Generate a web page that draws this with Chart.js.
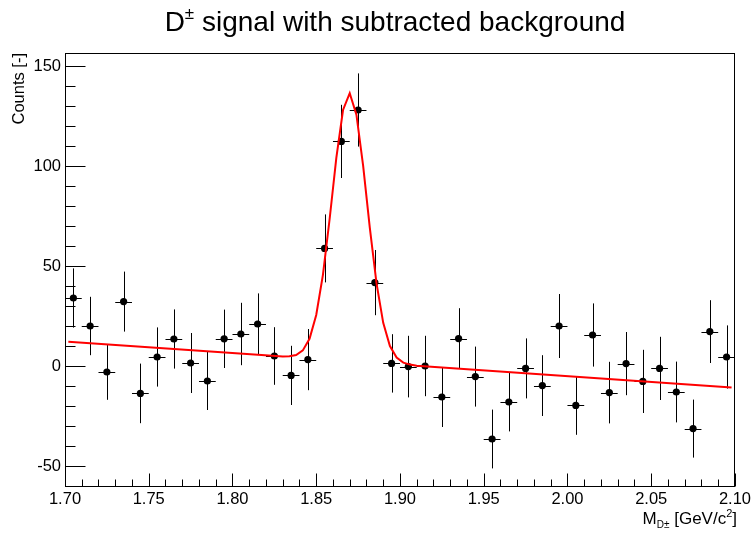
<!DOCTYPE html>
<html><head><meta charset="utf-8">
<script src="https://cdn.jsdelivr.net/npm/chart.js@4/dist/chart.umd.min.js"></script>
<style>html,body{margin:0;padding:0;background:#fff}canvas{display:block}</style>
</head><body>
<canvas id="c" width="754" height="536"></canvas>
<script>
// ---- data ----
const binCenters = [1.705,1.715,1.725,1.735,1.745,1.755,1.765,1.775,1.785,1.795,
                    1.805,1.815,1.825,1.835,1.845,1.855,1.865,1.875,1.885,1.895,
                    1.905,1.915,1.925,1.935,1.945,1.955,1.965,1.975,1.985,1.995,
                    2.005,2.015,2.025,2.035,2.045,2.055,2.065,2.075,2.085,2.095];
const counts = [34,20,-3,32.2,-13.7,4.5,13.5,1.5,-7.5,13.6,
                16,21,5,-4.7,3.2,58.8,112.3,128,41.7,1.3,
                -0.3,0,-15.5,13.7,-5.3,-36.5,-18,-1.2,-9.8,20,
                -19.7,15.5,-13.3,1.2,-7.7,-1.2,-13,-31.3,17.2,4.5];
const errors = [14.8,14.6,13.9,15,14.9,14.8,14.8,15,14.5,14.6,
                15.6,15.3,14.4,14.8,15.3,17,18.3,18.3,16.3,14.6,
                15.4,15.1,15,15.2,15,14.7,14.7,15,15.2,16,
                14.7,15.8,15.4,15.8,15.8,15.8,15.2,14.5,15.7,15.8];
const binHalfWidth = 0.005;
// fitted curve (linear background + gaussian), vertices
const fitX = [1.702,1.826,1.830,1.834,1.838,1.842,1.846,1.850,1.854,1.858,1.862,1.866,1.870,
              1.874,1.878,1.882,1.886,1.890,1.894,1.898,1.902,1.906,1.910,2.098];
const fitY = [12.1,4.96,4.77,4.85,5.52,7.79,13.6,25.5,45.6,73.5,104.1,128.0,136.4,
              125.7,100.2,69.1,41.3,21.6,10.0,4.2,1.7,0.7,0.15,-10.7];
const xTicks = [1.70,1.75,1.80,1.85,1.90,1.95,2.00,2.05,2.10];
const yTicks = [-50,0,50,100,150];

const FONT = '"Liberation Sans", Arial, Helvetica, sans-serif';

const errorBars = {
  id:'errorBars',
  beforeDatasetsDraw(chart){
    const {ctx, scales:{x,y}} = chart;
    ctx.save();
    ctx.strokeStyle = '#000'; ctx.lineWidth = 1;
    ctx.beginPath();
    binCenters.forEach((c,i)=>{
      const px = Math.round(x.getPixelForValue(c))+0.5;
      const py = Math.round(y.getPixelForValue(counts[i]))+0.5;
      ctx.moveTo(px, y.getPixelForValue(counts[i]+errors[i]));
      ctx.lineTo(px, y.getPixelForValue(counts[i]-errors[i]));
      ctx.moveTo(x.getPixelForValue(c-binHalfWidth), py);
      ctx.lineTo(x.getPixelForValue(c+binHalfWidth), py);
    });
    ctx.stroke();
    ctx.restore();
  }
};

const rootFrame = {
  id:'rootFrame',
  afterDraw(chart){
    const {ctx, chartArea:a, scales:{x,y}} = chart;
    ctx.save();
    ctx.strokeStyle = '#000'; ctx.lineWidth = 1;
    const L = Math.round(a.left)+0.5, R = Math.round(a.right)-0.5;
    const T = Math.round(a.top)+0.5, B = Math.round(a.bottom)-0.5;
    ctx.strokeRect(L, T, R-L, B-T);
    ctx.beginPath();
    for (let v=-60; v<=150; v+=10){
      const py = Math.round(y.getPixelForValue(v))+0.5;
      const len = (v%50===0)?20:10;
      ctx.moveTo(L, py); ctx.lineTo(L+len, py);
    }
    for (let k=0; k<=40; k++){
      const px = Math.round(x.getPixelForValue(1.70+k*0.01))+0.5;
      const len = (k%5===0)?13:7;
      ctx.moveTo(px, B); ctx.lineTo(px, B-len);
    }
    ctx.stroke();

    ctx.fillStyle = '#000';
    // main title
    const parts = [
      {t:'D', s:28, dy:0},
      {t:'\u00B1', s:17, dy:-12},
      {t:' signal with subtracted background', s:28, dy:0}
    ];
    drawParts(ctx, parts, 395, 31, 'center');
    // x axis title
    const xparts = [
      {t:'M', s:17, dy:0},
      {t:'D\u00B1', s:10, dy:4},
      {t:' [GeV/c', s:17, dy:0},
      {t:'2', s:11, dy:-7},
      {t:']', s:17, dy:0}
    ];
    drawParts(ctx, xparts, 737, 524, 'right');
    // y axis title
    ctx.save();
    ctx.translate(24, 53);
    ctx.rotate(-Math.PI/2);
    ctx.font = '16.5px ' + FONT;
    ctx.textAlign = 'right'; ctx.textBaseline = 'alphabetic';
    ctx.fillText('Counts [-]', 0, 0);
    ctx.restore();
    ctx.restore();
  }
};

function drawParts(ctx, parts, x, y, align){
  ctx.textAlign = 'left'; ctx.textBaseline = 'alphabetic';
  let w = 0;
  parts.forEach(p=>{ ctx.font = p.s+'px '+FONT; p.w = ctx.measureText(p.t).width; w += p.w; });
  let cx = align==='center' ? x - w/2 : (align==='right' ? x - w : x);
  parts.forEach(p=>{ ctx.font = p.s+'px '+FONT; ctx.fillText(p.t, cx, y+p.dy); cx += p.w; });
}

new Chart(document.getElementById('c'), {
  type:'scatter',
  data:{
    datasets:[
      {
        label:'fit',
        data: fitX.map((v,i)=>({x:v, y:fitY[i]})),
        showLine:true, borderColor:'#ff0000', borderWidth:2, pointRadius:0,
        tension:0, fill:false
      },
      {
        label:'signal',
        data: binCenters.map((v,i)=>({x:v, y:counts[i]})),
        showLine:false, pointRadius:3.6, pointBackgroundColor:'#000',
        pointBorderColor:'#000', pointBorderWidth:0
      }
    ]
  },
  options:{
    responsive:false, animation:false, devicePixelRatio:1,
    layout:{padding:{top:53, right:18, left:0, bottom:0}},
    plugins:{legend:{display:false}, tooltip:{enabled:false}, title:{display:false}},
    scales:{
      x:{
        type:'linear', min:1.70, max:2.10,
        afterBuildTicks(s){ s.ticks = xTicks.map(v=>({value:v})); },
        afterFit(s){ s.height = 49; },
        grid:{display:false, drawTicks:false},
        border:{display:false},
        ticks:{callback:v=>Number(v).toFixed(2), font:{family:FONT, size:16.5}, color:'#000',
               padding:3, maxRotation:0, autoSkip:false}
      },
      y:{
        type:'linear', min:-60.5, max:156.5,
        afterBuildTicks(s){ s.ticks = yTicks.map(v=>({value:v})); },
        afterFit(s){ s.width = 65; },
        grid:{display:false, drawTicks:false},
        border:{display:false},
        ticks:{font:{family:FONT, size:16.5}, color:'#000', padding:4}
      }
    }
  },
  plugins:[errorBars, rootFrame]
});
</script></body></html>
